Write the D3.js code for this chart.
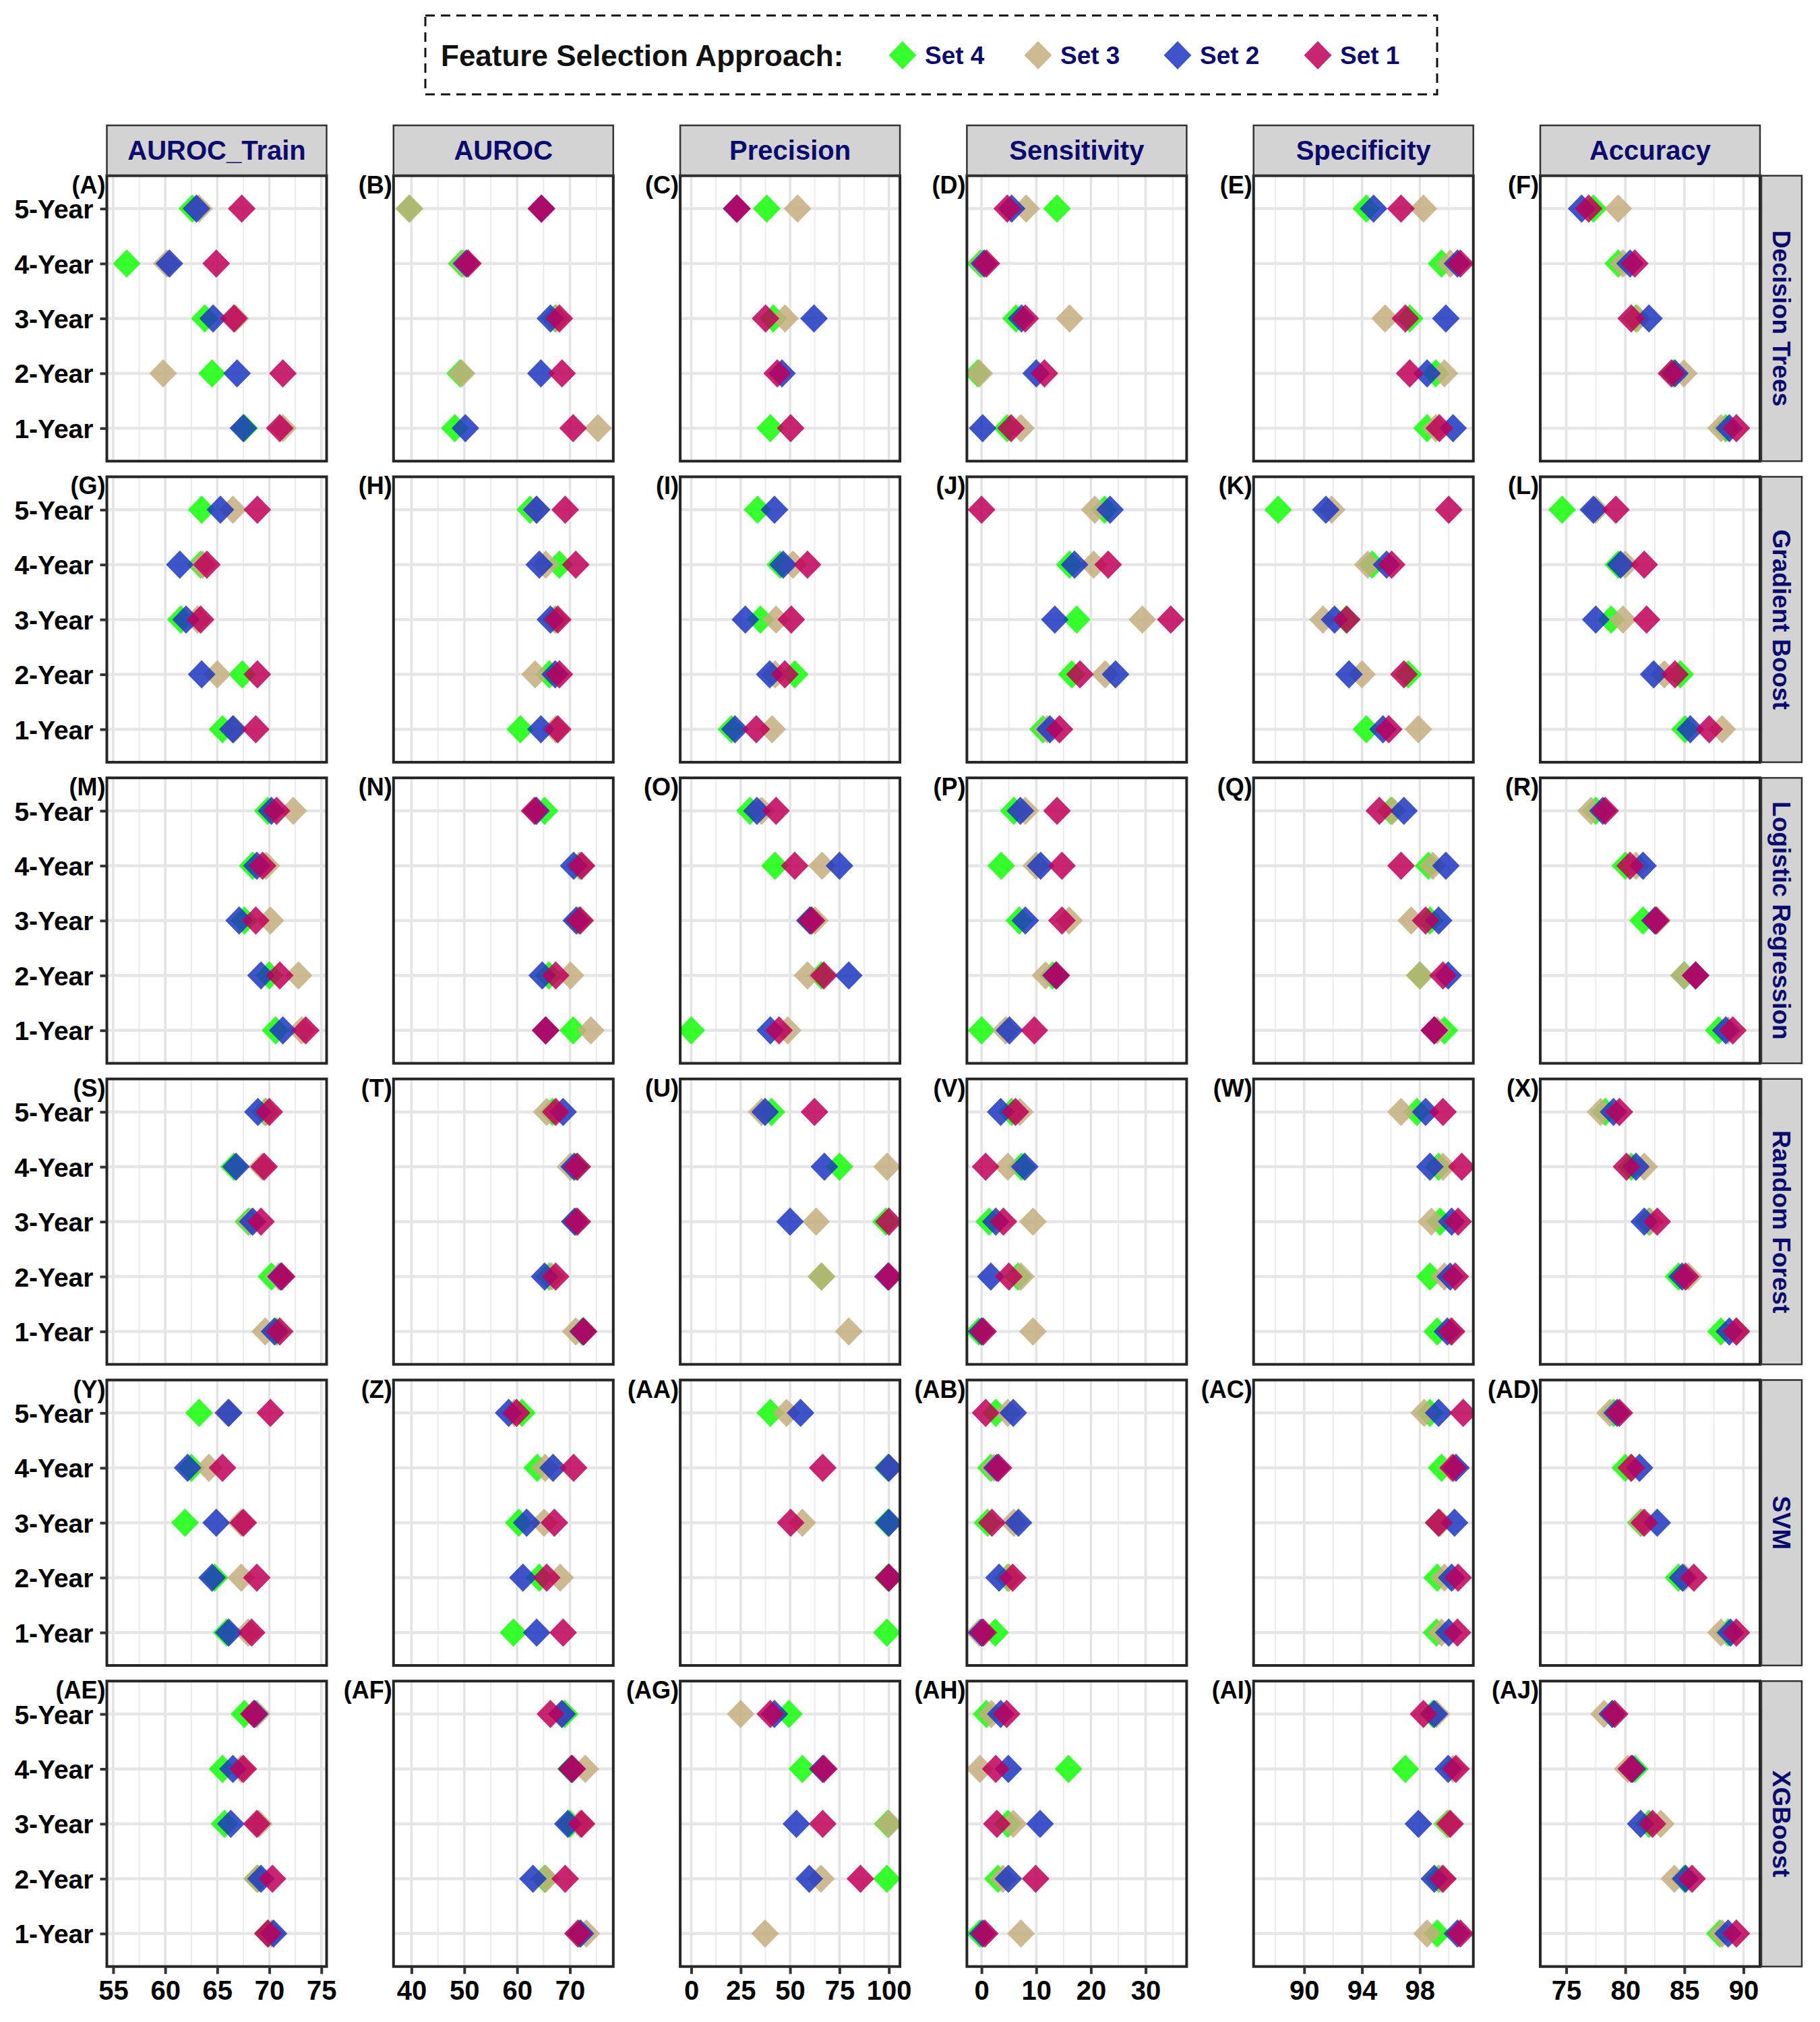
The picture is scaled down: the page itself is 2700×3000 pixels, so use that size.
<!DOCTYPE html>
<html><head><meta charset="utf-8">
<script src="https://cdn.jsdelivr.net/npm/d3@7"></script>
<style>body{margin:0;background:#fff} svg{display:block}</style>
</head><body><svg id="chart" width="2700" height="3000"></svg>
<script>
const years = ["1-Year","2-Year","3-Year","4-Year","5-Year"];
const metrics = ["AUROC_Train","AUROC","Precision","Sensitivity","Specificity","Accuracy"];
const models = ["Decision Trees","Gradient Boost","Logistic Regression","Random Forest","SVM","XGBoost"];
const sets = ["Set 4","Set 3","Set 2","Set 1"];
const metricTicks = [[55,60,65,70,75],[40,50,60,70],[0,25,50,75,100],[0,10,20,30],[90,94,98],[75,80,85,90]];
const panelTags = ["A","B","C","D","E","F","G","H","I","J","K","L","M","N","O","P","Q","R","S","T","U","V","W","X","Y","Z","AA","AB","AC","AD","AE","AF","AG","AH","AI","AJ"];

// values: [metric][1-Year..5-Year]
const dtSet4 = [[67.6,64.5,63.8,56.3,62.6],[48.2,49.2,67.2,49.5,39.6],[40.0,null,41.5,null,38.2],[4.7,-0.7,6.3,-0.2,13.8],[98.5,99.1,97.3,99.5,94.3],[88.5,84.05,80.9,79.4,77.3]];
const dtSet3 = [[71.3,59.8,66.75,60.15,63.25],[75.3,49.5,67.4,49.9,39.6],[null,null,47.4,null,53.8],[7.2,-0.4,16.1,0.2,8.15],[99.1,99.7,95.6,100.1,98.25],[88.1,84.95,81.0,79.8,79.4]];
const dtSet2 = [[67.5,66.9,64.6,60.4,63.0],[50.2,64.5,66.3,50.4,64.6],[null,45.9,62.1,null,22.9],[0.2,10.0,7.3,0.5,5.5],[100.3,98.5,99.8,100.6,94.8],[88.8,84.2,82.0,80.4,76.3]];
const dtSet1 = [[71.0,71.3,66.6,64.9,67.35],[70.6,68.5,68.0,50.7,64.6],[50.3,43.5,37.6,null,23.2],[5.4,11.5,8.0,0.9,4.7],[99.35,97.3,97.0,100.8,96.7],[89.4,83.9,80.5,80.8,76.9]];

const gbSet4 = [[65.5,67.4,61.5,63.4,63.5],[60.6,66.1,67.2,68.0,62.45],[20.3,52.35,35.0,45.0,33.5],[11.25,16.5,17.4,16.1,22.5],[94.3,97.2,92.9,94.7,88.2],[85.05,84.65,78.8,79.4,74.65]];
const gbSet3 = [[66.6,65.0,63.1,63.6,66.5],[67.3,63.4,67.2,65.4,63.6],[40.9,42.4,42.9,51.5,null],[12.0,22.6,29.4,20.5,20.7],[97.9,94.0,91.3,94.4,91.9],[88.2,83.3,79.8,80.0,77.5]];
const gbSet2 = [[66.5,63.5,62.0,61.4,65.3],[64.5,67.2,66.3,64.2,63.7],[22.1,39.7,27.35,46.5,42.1],[12.5,24.5,13.4,17.0,23.5],[95.45,93.1,92.1,95.7,91.5],[85.5,82.4,77.5,79.6,77.3]];
const gbSet1 = [[68.7,68.85,63.4,64.0,68.85],[67.7,68.0,67.7,71.1,69.1],[32.9,47.35,50.6,58.8,null],[14.25,18.0,34.6,23.15,0.0],[95.85,96.9,92.95,96.05,100.0],[87.1,84.2,81.8,81.6,79.2]];

const lrSet4 = [[70.6,70.0,67.6,68.4,69.85],[70.6,66.0,71.6,71.8,65.2],[0.0,65.9,60.4,42.35,29.7],[0.0,13.0,6.9,3.6,5.9],[99.7,98.0,98.7,98.6,96.0],[87.9,85.0,81.5,80.0,77.5]];
const lrSet3 = [[73.1,72.8,70.1,69.7,72.3],[73.95,70.1,72.0,72.0,63.7],[48.8,58.8,62.6,66.2,35.6],[4.4,11.7,16.0,10.0,8.0],[99.2,98.0,97.4,98.9,96.1],[88.7,84.95,82.7,80.9,77.1]];
const lrSet2 = [[71.3,69.2,67.1,68.8,70.2],[65.4,64.75,71.2,70.7,63.6],[40.0,79.7,60.0,75.0,33.2],[5.1,13.6,8.0,10.8,7.1],[99.0,99.96,99.3,99.8,96.9],[88.5,85.95,82.5,81.5,78.1]];
const lrSet1 = [[73.5,71.0,68.7,69.35,70.7],[65.4,67.3,71.9,72.2,63.3],[44.4,67.1,60.9,52.35,42.9],[9.65,13.7,14.7,14.7,13.8],[99.0,99.6,98.4,96.7,95.2],[89.1,85.95,82.6,80.4,78.3]];

const rfSet4 = [[70.7,70.2,68.0,66.6,69.6],[72.3,66.1,71.1,71.2,66.7],[null,65.9,98.5,75.0,40.6],[-0.5,6.65,1.4,7.3,5.5],[99.2,98.7,99.4,99.3,97.8],[88.1,84.5,82.0,80.5,78.3]];
const rfSet3 = [[69.6,70.9,68.2,69.3,69.7],[71.1,66.5,71.3,70.1,65.6],[79.7,65.9,63.2,99.1,35.6],[9.4,7.2,9.4,4.8,7.0],[100.1,99.7,98.8,99.6,96.7],[89.4,85.35,82.1,81.6,77.9]];
const rfSet2 = [[70.5,71.1,68.4,66.8,68.9],[72.5,65.2,70.9,70.8,68.7],[null,99.5,50.0,67.35,37.35],[0.0,1.7,2.6,7.9,3.5],[99.9,100.1,100.2,98.7,98.4],[88.8,84.8,81.6,80.9,79.0]];
const rfSet1 = [[71.0,71.2,69.2,69.5,70.0],[72.6,67.3,71.4,71.4,67.3],[null,100,100,null,62.35],[0.3,5.0,4.0,0.75,6.2],[100.2,100.45,100.65,100.9,99.6],[89.4,85.1,82.7,80.1,79.5]];

const svmSet4 = [[65.9,64.75,61.9,62.5,63.25],[59.3,64.2,60.3,63.8,60.9],[99.0,99.5,99.5,99.5,40.0],[2.5,4.8,1.1,1.7,2.6],[99.15,99.2,99.3,99.5,98.7],[88.7,84.5,81.3,80.0,79.0]];
const svmSet3 = [[67.96,67.3,67.3,64.2,66.0],[null,68.15,65.1,65.3,59.5],[null,100,56.2,100,48.2],[-0.4,5.0,5.9,2.25,4.8],[99.5,99.7,99.4,100.2,98.3],[88.1,85.0,81.4,80.5,78.7]];
const svmSet2 = [[66.1,64.5,64.9,62.15,66.1],[63.7,61.1,61.8,66.8,58.4],[null,100,100,100,55.3],[0.0,3.2,6.75,2.8,5.8],[100.0,100.2,100.4,100.5,99.3],[88.9,84.85,82.7,81.2,79.3]];
const svmSet1 = [[68.3,68.8,67.5,65.5,70.1],[68.7,65.6,67.05,70.7,59.9],[null,100,50.3,66.5,null],[0.3,5.7,1.9,3.1,0.75],[100.6,100.65,99.3,100.3,101.0],[89.4,85.8,81.6,80.5,79.5]];

const xgbSet4 = [[69.9,68.9,65.7,65.5,67.6],[71.8,65.2,70.0,70.2,69.0],[null,99.0,99.4,56.2,49.4],[-0.3,3.0,4.8,15.9,0.9],[99.2,99.3,99.9,97.0,98.9],[88.0,85.0,82.0,80.8,78.9]];
const xgbSet3 = [[70.2,68.8,69.0,67.3,68.8],[73.1,65.4,71.9,72.9,68.4],[37.35,65.6,100,null,25.0],[7.2,3.9,5.8,-0.3,1.8],[98.5,99.5,100.0,100.3,99.15],[88.2,84.15,83.0,80.2,78.2]];
const xgbSet2 = [[70.4,69.2,66.3,66.5,68.6],[72.0,63.0,69.6,70.3,68.5],[null,59.7,53.2,66.5,42.1],[0.2,4.9,10.7,4.9,3.5],[100.6,99.0,97.9,99.96,99.0],[88.7,85.1,81.3,80.6,78.9]];
const xgbSet1 = [[69.85,70.3,68.8,67.5,68.5],[71.5,69.1,72.2,70.45,66.3],[null,85.6,66.5,67.1,40.0],[0.6,9.9,2.8,2.6,4.6],[100.8,99.6,100.1,100.5,98.25],[89.4,85.65,82.3,80.5,79.1]];

const modelSeries = [
  [dtSet4, dtSet3, dtSet2, dtSet1],
  [gbSet4, gbSet3, gbSet2, gbSet1],
  [lrSet4, lrSet3, lrSet2, lrSet1],
  [rfSet4, rfSet3, rfSet2, rfSet1],
  [svmSet4, svmSet3, svmSet2, svmSet1],
  [xgbSet4, xgbSet3, xgbSet2, xgbSet1]
];

// ---- layout / style ----
const setColors = ["#14ff08", "#c4ad7f", "#1f36c0", "#be0058"];
const xDomains = [[54.39,75.5],[36.6,78.2],[-5.6,105.6],[-2.68,37.5],[86.5,101.7],[72.8,91.4]];
const panelW = 326, panelH = 423.5;
const colLeft = i => 158.5 + i * 425.3;
const rowTop = j => 260.7 + j * 446.7;
const FONT = "'Liberation Sans', Arial, Helvetica, sans-serif";
const NAVY = "#0b0b6e";
const diamond = (w, h) => `M0,${-h}L${w},0L0,${h}L${-w},0Z`;

const svg = d3.select("#chart");
svg.append("rect").attr("width", 2700).attr("height", 3000).attr("fill", "#fff");

const y = d3.scalePoint().domain(years.slice().reverse()).range([0, panelH]).padding(0.6);
const defs = svg.append("defs");
defs.append("clipPath").attr("id", "pclip").append("rect").attr("width", panelW).attr("height", panelH);

models.forEach((model, r) => {
  metrics.forEach((metric, c) => {
    const x0 = colLeft(c), y0 = rowTop(r);
    const x = d3.scaleLinear().domain(xDomains[c]).range([0, panelW]);
    const g = svg.append("g").attr("transform", `translate(${x0},${y0})`);
    const ticks = metricTicks[c];
    const step = ticks[1] - ticks[0];
    const minors = [];
    for (let v = ticks[0] - step * 1.5; v <= xDomains[c][1]; v += step) {
      if (v >= xDomains[c][0]) minors.push(v);
    }
    const majors = [];
    for (let v = ticks[0] - step * 2; v <= xDomains[c][1]; v += step) {
      if (v >= xDomains[c][0]) majors.push(v);
    }
    g.append("rect").attr("width", panelW).attr("height", panelH).attr("fill", "#fff");
    g.selectAll(".minor").data(minors).join("line")
      .attr("x1", d => x(d)).attr("x2", d => x(d)).attr("y1", 0).attr("y2", panelH)
      .attr("stroke", "#ebebeb").attr("stroke-width", 2);
    g.selectAll(".major").data(majors).join("line")
      .attr("x1", d => x(d)).attr("x2", d => x(d)).attr("y1", 0).attr("y2", panelH)
      .attr("stroke", "#e3e3e3").attr("stroke-width", 3.5);
    g.selectAll(".hgrid").data(years).join("line")
      .attr("x1", 0).attr("x2", panelW).attr("y1", d => y(d)).attr("y2", d => y(d))
      .attr("stroke", "#e6e6e6").attr("stroke-width", 4.5);

    const pts = g.append("g").attr("clip-path", "url(#pclip)");
    modelSeries[r].forEach((setVals, s) => {
      const vals = setVals[c];
      const data = years.map((yr, k) => ({ yr, v: vals[k] })).filter(d => d.v !== null);
      pts.selectAll(null).data(data).join("path")
        .attr("d", diamond(20.5, 21))
        .attr("transform", d => `translate(${x(d.v)},${y(d.yr)})`)
        .attr("fill", setColors[s]).attr("fill-opacity", 0.85);
    });

    g.append("rect").attr("width", panelW).attr("height", panelH)
      .attr("fill", "none").attr("stroke", "#262626").attr("stroke-width", 4);

    // panel tag
    g.append("text").attr("x", -2).attr("y", 26)
      .attr("text-anchor", "end").attr("font-family", FONT).attr("font-weight", "bold")
      .attr("font-size", 36).attr("fill", "#000").text(`(${panelTags[r * 6 + c]})`);

    if (c === 0) {
      const ax = g.append("g").call(d3.axisLeft(y).tickSize(10).tickPadding(10));
      ax.select(".domain").remove();
      ax.selectAll("line").attr("stroke", "#333").attr("stroke-width", 4);
      ax.selectAll("text").attr("font-family", FONT).attr("font-weight", "bold")
        .attr("font-size", 39).attr("fill", "#000").attr("dy", "0.36em");
    }
    if (r === models.length - 1) {
      const ax = g.append("g").attr("transform", `translate(0,${panelH})`)
        .call(d3.axisBottom(x).tickValues(ticks).tickSize(11).tickPadding(10));
      ax.select(".domain").remove();
      ax.selectAll("line").attr("stroke", "#333").attr("stroke-width", 4);
      ax.selectAll("text").attr("font-family", FONT).attr("font-weight", "bold")
        .attr("font-size", 40).attr("fill", "#000").attr("dy", "0.72em");
    }
    if (r === 0) {
      const sg = svg.append("g").attr("transform", `translate(${x0},186)`);
      sg.append("rect").attr("width", panelW).attr("height", 74)
        .attr("fill", "#d3d3d3").attr("stroke", "#333").attr("stroke-width", 2.5);
      sg.append("text").attr("x", panelW / 2).attr("y", 37).attr("dy", "0.36em")
        .attr("text-anchor", "middle").attr("font-family", FONT).attr("font-weight", "bold")
        .attr("font-size", 40).attr("fill", NAVY).text(metric);
    }
    if (c === metrics.length - 1) {
      const sg = svg.append("g").attr("transform", `translate(${x0 + panelW + 2},${y0})`);
      sg.append("rect").attr("width", 60).attr("height", panelH)
        .attr("fill", "#d3d3d3").attr("stroke", "#333").attr("stroke-width", 2.5);
      sg.append("text").attr("transform", `translate(30,${panelH / 2}) rotate(90)`).attr("dy", "0.36em")
        .attr("text-anchor", "middle").attr("font-family", FONT).attr("font-weight", "bold")
        .attr("font-size", 37).attr("fill", NAVY).text(model);
    }
  });
});

// legend
const lg = svg.append("g");
lg.append("rect").attr("x", 631).attr("y", 23).attr("width", 1501).attr("height", 117)
  .attr("fill", "#fff").attr("stroke", "#111").attr("stroke-width", 3).attr("stroke-dasharray", "14,9");
lg.append("text").attr("x", 654).attr("y", 82).attr("dy", "0.36em")
  .attr("font-family", FONT).attr("font-weight", "bold").attr("font-size", 44).attr("fill", "#111")
  .text("Feature Selection Approach:");
const keyX = [1339, 1540, 1747, 1955];
sets.forEach((s, i) => {
  lg.append("path").attr("d", diamond(20.5, 21)).attr("transform", `translate(${keyX[i]},82)`)
    .attr("fill", setColors[i]).attr("fill-opacity", 0.85);
  lg.append("text").attr("x", keyX[i] + 33).attr("y", 82).attr("dy", "0.36em")
    .attr("font-family", FONT).attr("font-weight", "bold").attr("font-size", 37).attr("fill", NAVY).text(s);
});
</script></body></html>
